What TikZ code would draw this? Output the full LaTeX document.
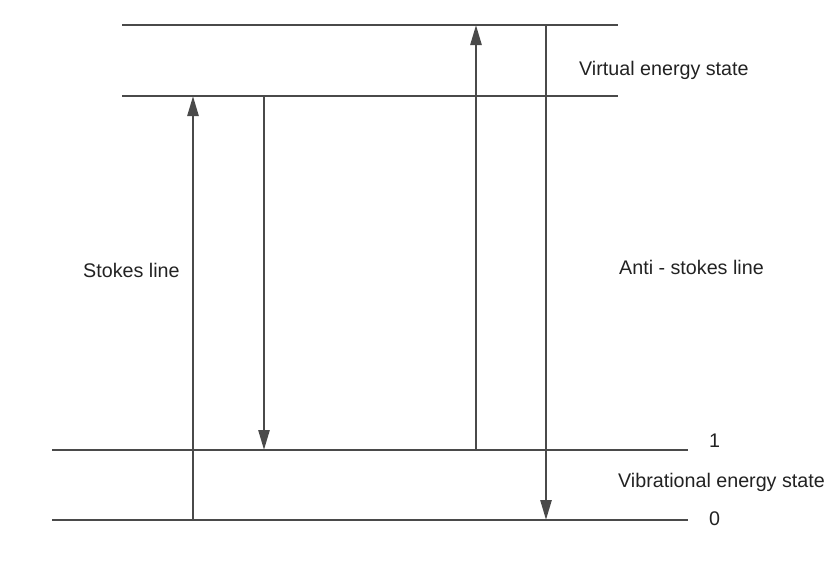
\documentclass[tikz,border=0pt]{standalone}
\usepackage{fontspec}
\setmainfont{Liberation Sans}
\usetikzlibrary{arrows.meta}
\definecolor{linegray}{HTML}{4A4A4A}
\definecolor{txt}{HTML}{222222}
\begin{document}
\begin{tikzpicture}[x=1pt,y=-1pt,
  level/.style={draw=linegray,line width=2.6pt},
  trans/.style={draw=linegray,line width=2.6pt,-{Triangle[length=20pt,width=11pt]},shorten >=0pt},
  lbl/.style={text=txt,font=\fontsize{19.7}{23}\selectfont,inner sep=0pt,anchor=west}]
\useasboundingbox (0,0) rectangle (840,563);
% level end points
\coordinate (v2L) at (122,25);  \coordinate (v2R) at (618,25);
\coordinate (v1L) at (122,96);  \coordinate (v1R) at (618,96);
\coordinate (e1L) at (52,450);  \coordinate (e1R) at (688,450);
\coordinate (e0L) at (52,520);  \coordinate (e0R) at (688,520);
\draw[level] (v2L) -- (v2R);
\draw[level] (v1L) -- (v1R);
\draw[level] (e1L) -- (e1R);
\draw[level] (e0L) -- (e0R);
% transition end points
\coordinate (a1s) at (193,520); \coordinate (a1e) at (193,96);
\coordinate (a2s) at (264,96);  \coordinate (a2e) at (264,450);
\coordinate (a3s) at (476,450); \coordinate (a3e) at (476,25);
\coordinate (a4s) at (546,25);  \coordinate (a4e) at (546,520);
\draw[trans] (a1s) -- (a1e);
\draw[trans] (a2s) -- (a2e);
\draw[trans] (a3s) -- (a3e);
\draw[trans] (a4s) -- (a4e);
% labels
\node[lbl] (virt) at (579,70) {Virtual energy state};
\node[lbl] (stokes) at (83,270) {Stokes line};
\node[lbl] (anti) at (619,267) {Anti - stokes line};
\node[lbl] (one) at (709,441) {1};
\node[lbl] (vib) at (618,482) {Vibrational energy state};
\node[lbl] (zero) at (709,519) {0};
\end{tikzpicture}
\end{document}
